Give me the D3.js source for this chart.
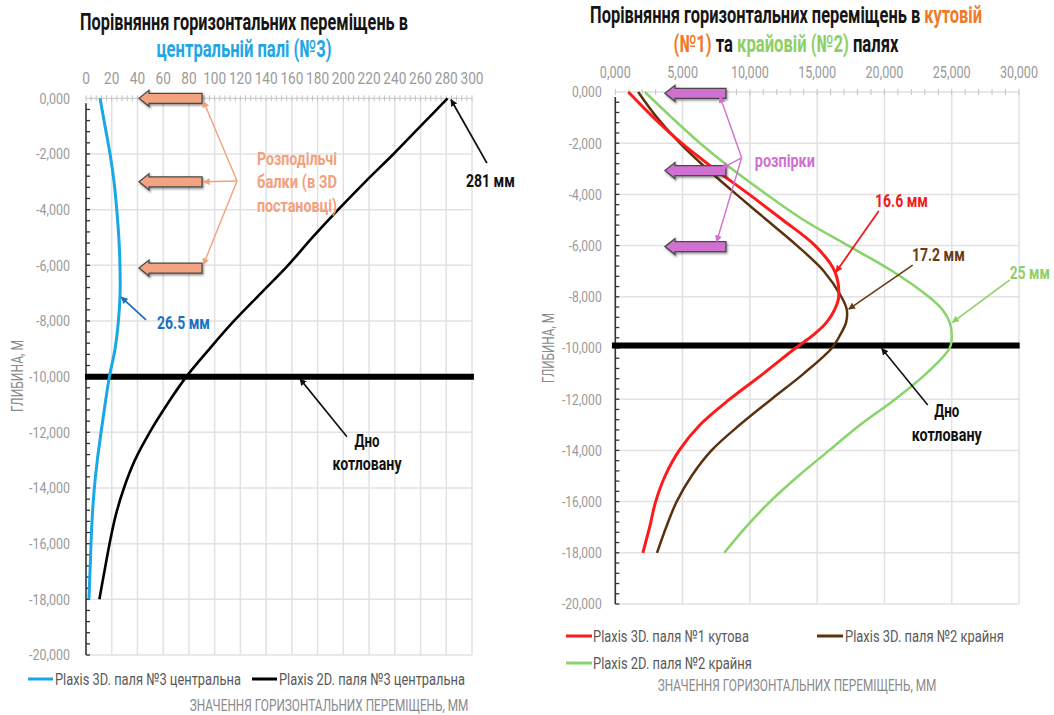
<!DOCTYPE html>
<html><head><meta charset="utf-8">
<script src="https://cdn.jsdelivr.net/npm/d3@7"></script>
<style>
html,body{margin:0;padding:0;background:#fff;}
svg text{font-family:'Liberation Sans Narrow','Roboto','DejaVu Sans',sans-serif;}
</style>
</head><body>
<svg id="c" width="1054" height="715"></svg>
<script>
// ---------- DATA ----------
// Left chart: central pile No3 (depth in m, displacement in mm)
const depthL = [0,-1,-2,-3,-4,-5,-6,-7,-8,-9,-10,-11,-12,-13,-14,-15,-16,-17,-18];
const plaxis3D_pile3 = [10.9,14.8,18.7,21.8,23.9,25.5,26.4,26.5,25.2,22.6,18.2,14.8,11.7,8.8,6.5,4.9,3.9,3.1,2.3];
const plaxis2D_pile3 = [281,260,239,217,196,176,157,136,115,96,78,63,49.5,38,29.5,23,18.3,14.3,10.4];
const xTicksL = [0,20,40,60,80,100,120,140,160,180,200,220,240,260,280,300];
const yTicks = [0,-2,-4,-6,-8,-10,-12,-14,-16,-18,-20];

// Right chart: corner pile No1 and edge pile No2
const depthR = [0,-1,-2,-3,-4,-5,-6,-7,-8,-8.5,-9,-9.5,-10,-11,-12,-13,-14,-15,-16,-17,-18];
const plaxis3D_pile1 = [0.97,2.85,4.93,7.35,9.95,12.45,14.85,16.3,16.6,16.3,15.7,14.7,13.4,11.0,8.5,6.3,4.75,3.7,3.0,2.55,2.05];
const plaxis3D_pile2 = [1.7,3.1,4.8,6.8,9.0,11.25,13.5,15.5,16.8,17.2,17.15,16.7,16.1,14.0,11.6,9.25,7.15,5.67,4.56,3.78,3.1];
const plaxis2D_pile2 = [2.2,4.2,6.3,8.65,11.25,14.0,17.3,20.6,23.3,24.3,24.85,25.0,24.85,23.1,20.8,18.2,15.9,13.6,11.5,9.7,8.1];
const xTicksR = [0,5,10,15,20,25,30];

const excavationBottomL = -10;
const excavationBottomR = -9.9;
const strutDepthsL = [0,-3,-6.1];
const strutDepthsR = [-0.05,-3.07,-6.04];

// ---------- HELPERS ----------
const svg = d3.select('#c');
function fmtY(v){ const a = Math.abs(v); return (v<0?'-':'') + a.toFixed(0) + ',000'; }
function txt(g, x, y, parts, o){
  o = o||{};
  const t = g.append('text').attr('x',0).attr('y',0)
    .attr('text-anchor', o.anchor||'start')
    .attr('dominant-baseline','central')
    .attr('font-size', o.size||14)
    .attr('font-weight', o.weight||'normal');
  if(typeof parts === 'string') parts=[[parts, o.color||'#000']];
  parts.forEach(p=>t.append('tspan').text(p[0]).attr('fill',p[1]));
  let s = 1;
  const len = t.node().getComputedTextLength();
  if(o.w) s = o.w/len; else if(o.k) s = o.k;
  let tr = `translate(${x},${y})`;
  if(o.rot) tr += ` rotate(${o.rot})`;
  tr += ` scale(${s},1)`;
  t.attr('transform', tr);
  return t;
}
function measureK(g, str, size, target, weight){
  const t = g.append('text').attr('font-size',size).attr('font-weight',weight||'normal').text(str);
  const l = t.node().getComputedTextLength(); t.remove(); return target/l;
}
const defs = svg.append('defs');
function marker(id,color){
  defs.append('marker').attr('id',id).attr('viewBox','0 0 10 10').attr('refX',9).attr('refY',5)
    .attr('markerWidth',7).attr('markerHeight',7).attr('orient','auto-start-reverse').attr('markerUnits','userSpaceOnUse')
    .append('path').attr('d','M0,0 L10,5 L0,10 Z').attr('fill',color);
}
marker('mOr','#f3a07c'); marker('mBl','#1b6fc0'); marker('mBk','#111'); marker('mPk','#d070d0');
marker('mRd','#ee1c1c'); marker('mBr','#6a3a12'); marker('mGr','#8ed065');
const filt = defs.append('filter').attr('id','sh').attr('x','-20%').attr('y','-50%').attr('width','140%').attr('height','200%');
filt.append('feDropShadow').attr('dx',1).attr('dy',1.5).attr('stdDeviation',1).attr('flood-color','#000').attr('flood-opacity',0.45);

function blockArrow(g, x1, x2, yc, fill){
  const hl=10, hh=8, sh=5;
  const d = `M${x1},${yc} L${x1+hl},${yc-hh} L${x1+hl},${yc-sh} L${x2},${yc-sh} L${x2},${yc+sh} L${x1+hl},${yc+sh} L${x1+hl},${yc+hh} Z`;
  g.append('path').attr('d',d).attr('fill',fill).attr('stroke','#4a4a4a').attr('stroke-width',1.3).attr('filter','url(#sh)');
}
function pointer(g, a, b, color, mk, w){
  g.append('line').attr('x1',a[0]).attr('y1',a[1]).attr('x2',b[0]).attr('y2',b[1])
    .attr('stroke',color).attr('stroke-width',w||1.6).attr('marker-end',`url(#${mk})`);
}
const TICKC = '#9a9a9a', LBLC = '#5a5a5a', TTLC = '#8a8a8a';

// ---------- LEFT CHART ----------
(function(){
  const g = svg.append('g');
  const x = d3.scaleLinear().domain([0,300]).range([86,472]);
  const y = d3.scaleLinear().domain([0,-20]).range([98.3,655]);
  g.selectAll('.vg').data(xTicksL.slice(1)).join('line')
    .attr('x1',d=>x(d)).attr('x2',d=>x(d)).attr('y1',y(0)).attr('y2',y(-20))
    .attr('stroke','#e2e2e2').attr('stroke-width',1.5);
  g.selectAll('.hg').data(yTicks.slice(1)).join('line')
    .attr('x1',x(0)).attr('x2',x(300)).attr('y1',d=>y(d)).attr('y2',d=>y(d))
    .attr('stroke','#e2e2e2').attr('stroke-width',1.5);
  g.append('line').attr('x1',x(0)).attr('x2',x(300)).attr('y1',y(0)).attr('y2',y(0)).attr('stroke','#cfcfcf').attr('stroke-width',1.2);
  g.selectAll('.tm').data(d3.range(0,301,4)).join('line')
    .attr('x1',d=>x(d)).attr('x2',d=>x(d)).attr('y1',y(0)-3).attr('y2',y(0)+3).attr('stroke','#c4c4c4').attr('stroke-width',1);
  const kx = measureK(g,'300',17,23);
  xTicksL.forEach(v=>txt(g, x(v), 78, String(v), {anchor:'middle', size:17, color:TICKC, k:kx}));
  g.append('line').attr('x1',x(0)).attr('x2',x(0)).attr('y1',y(0)+5).attr('y2',y(-20)).attr('stroke','#333').attr('stroke-width',1.6);
  g.selectAll('.ym').data(d3.range(0,-20.01,-0.4).slice(1)).join('line')
    .attr('x1',x(0)).attr('x2',x(0)+4).attr('y1',d=>y(d)).attr('y2',d=>y(d)).attr('stroke','#333').attr('stroke-width',1.3);
  const ky = measureK(g,'-2,000',14,34);
  yTicks.forEach(v=>txt(g, 70, y(v), fmtY(v), {anchor:'end', size:14, color:TICKC, k:ky}));
  g.append('line').attr('x1',x(-0.8)).attr('x2',x(301.5)).attr('y1',y(excavationBottomL)).attr('y2',y(excavationBottomL))
    .attr('stroke','#000').attr('stroke-width',6);
  const line = d3.line().x(d=>x(d[1])).y(d=>y(d[0])).curve(d3.curveCatmullRom.alpha(0.5));
  g.append('path').attr('d',line(depthL.map((d,i)=>[d,plaxis2D_pile3[i]]))).attr('fill','none').attr('stroke','#000').attr('stroke-width',2.6);
  g.append('path').attr('d',line(depthL.map((d,i)=>[d,plaxis3D_pile3[i]]))).attr('fill','none').attr('stroke','#1aa7e6').attr('stroke-width',3);
  strutDepthsL.forEach(d=>blockArrow(g, x(41.2), x(90.2), y(d), '#f3a37f'));
  const oc = [x(117.4), y(-2.97)];
  [[-0.1],[-3.0],[-5.98]].forEach(p=>pointer(g, oc, [x(91.2), y(p[0])], '#f3a07c', 'mOr', 1.4));
  txt(g, x(132.9), y(-2.15), 'Розподільчі', {size:19, weight:'bold', color:'#f3a07c', w:80});
  txt(g, x(132.9), y(-2.98), 'балки (в 3D', {size:19, weight:'bold', color:'#f3a07c', w:80});
  txt(g, x(132.9), y(-3.83), 'постановці)', {size:19, weight:'bold', color:'#f3a07c', w:80});
  pointer(g, [x(46.6), y(-7.96)], [x(27.4), y(-7.14)], '#1b6fc0', 'mBl', 1.8);
  txt(g, x(55.2), y(-8.06), '26.5 мм', {size:19, weight:'bold', color:'#1b6fc0', w:53});
  pointer(g, [x(311.6), y(-2.33)], [x(283.7), y(-0.05)], '#111', 'mBk', 1.8);
  txt(g, x(295.3), y(-2.93), '281 мм', {size:19, weight:'bold', color:'#111', w:49});
  pointer(g, [x(202.8), y(-12.16)], [x(166.3), y(-10.08)], '#111', 'mBk', 1.6);
  txt(g, x(218.4), y(-12.27), 'Дно', {anchor:'middle', size:19, weight:'bold', color:'#111', w:25});
  txt(g, x(218.4), y(-13.1), 'котловану', {anchor:'middle', size:19, weight:'bold', color:'#111', w:69});
  txt(g, 244, 22, 'Порівняння горизонтальних переміщень в', {anchor:'middle', size:24, weight:'bold', color:'#151515', w:328});
  txt(g, 244, 49, 'центральній палі (№3)', {anchor:'middle', size:24, weight:'bold', color:'#1ea7e4', w:175});
  txt(g, 17, 376, 'ГЛИБИНА, М', {anchor:'middle', size:16, color:TTLC, rot:-90, w:72});
  txt(g, 329, 705, 'ЗНАЧЕННЯ ГОРИЗОНТАЛЬНИХ ПЕРЕМІЩЕНЬ, ММ', {anchor:'middle', size:16, color:TTLC, w:279});
  g.append('line').attr('x1',28).attr('x2',53).attr('y1',679).attr('y2',679).attr('stroke','#1aa7e6').attr('stroke-width',3);
  txt(g, 55, 679, 'Plaxis 3D. паля №3 центральна', {size:17, color:LBLC, w:186});
  g.append('line').attr('x1',252).attr('x2',277).attr('y1',679).attr('y2',679).attr('stroke','#000').attr('stroke-width',3);
  txt(g, 279, 679, 'Plaxis 2D. паля №3 центральна', {size:17, color:LBLC, w:186});
})();

// ---------- RIGHT CHART ----------
(function(){
  const g = svg.append('g');
  const x = d3.scaleLinear().domain([0,30]).range([615.3,1019]);
  const y = d3.scaleLinear().domain([0,-20]).range([92,604]);
  g.selectAll('.vg').data(xTicksR.slice(1)).join('line')
    .attr('x1',d=>x(d)).attr('x2',d=>x(d)).attr('y1',y(0)).attr('y2',y(-20))
    .attr('stroke','#e2e2e2').attr('stroke-width',1.5);
  g.selectAll('.hg').data(yTicks.slice(1)).join('line')
    .attr('x1',x(0)).attr('x2',x(30)).attr('y1',d=>y(d)).attr('y2',d=>y(d))
    .attr('stroke','#e2e2e2').attr('stroke-width',1.5);
  g.append('line').attr('x1',x(0)).attr('x2',x(30)).attr('y1',y(0)).attr('y2',y(0)).attr('stroke','#cfcfcf').attr('stroke-width',1.2);
  g.selectAll('.tm').data(d3.range(0,30.01,1)).join('line')
    .attr('x1',d=>x(d)).attr('x2',d=>x(d)).attr('y1',y(0)-3).attr('y2',y(0)+3).attr('stroke','#c4c4c4').attr('stroke-width',1);
  const kx = measureK(g,'10,000',16,38);
  xTicksR.forEach(v=>txt(g, x(v), 72, v.toFixed(0)+',000', {anchor:'middle', size:16, color:TICKC, k:kx}));
  g.append('line').attr('x1',x(0)).attr('x2',x(0)).attr('y1',y(0)+5).attr('y2',y(-20)).attr('stroke','#333').attr('stroke-width',1.6);
  g.selectAll('.ym').data(d3.range(0,-20.01,-0.4).slice(1)).join('line')
    .attr('x1',x(0)).attr('x2',x(0)+4).attr('y1',d=>y(d)).attr('y2',d=>y(d)).attr('stroke','#333').attr('stroke-width',1.3);
  const ky = measureK(g,'-2,000',15,33);
  yTicks.forEach(v=>txt(g, 601.7, y(v), fmtY(v), {anchor:'end', size:15, color:TICKC, k:ky}));
  g.append('line').attr('x1',x(-0.25)).attr('x2',x(30.05)).attr('y1',y(excavationBottomR)).attr('y2',y(excavationBottomR))
    .attr('stroke','#000').attr('stroke-width',6);
  const line = d3.line().x(d=>x(d[1])).y(d=>y(d[0])).curve(d3.curveCatmullRom.alpha(0.5));
  g.append('path').attr('d',line(depthR.map((d,i)=>[d,plaxis2D_pile2[i]]))).attr('fill','none').attr('stroke','#88d36a').attr('stroke-width',2.5);
  g.append('path').attr('d',line(depthR.map((d,i)=>[d,plaxis3D_pile2[i]]))).attr('fill','none').attr('stroke','#5a3210').attr('stroke-width',2.5);
  g.append('path').attr('d',line(depthR.map((d,i)=>[d,plaxis3D_pile1[i]]))).attr('fill','none').attr('stroke','#ff1a1a').attr('stroke-width',3);
  strutDepthsR.forEach(d=>blockArrow(g, x(3.69), x(8.22), y(d), '#d070d0'));
  const pc = [x(9.39), y(-2.57)];
  pointer(g, pc, [x(7.78), y(-0.18)], '#d070d0', 'mPk', 1.4);
  pointer(g, pc, [x(7.9), y(-2.98)], '#d070d0', 'mPk', 1.4);
  pointer(g, pc, [x(7.53), y(-5.85)], '#d070d0', 'mPk', 1.4);
  txt(g, x(10.37), y(-2.66), 'розпірки', {size:19, weight:'bold', color:'#d070d0', w:60});
  pointer(g, [x(19.58), y(-4.65)], [x(16.4), y(-7.03)], '#ee1c1c', 'mRd', 1.8);
  txt(g, x(19.3), y(-4.22), '16.6 мм', {size:19, weight:'bold', color:'#ee1c1c', w:53});
  pointer(g, [x(22.1), y(-6.76)], [x(17.35), y(-8.48)], '#6a3a12', 'mBr', 1.6);
  txt(g, x(22.04), y(-6.33), '17.2 мм', {size:19, weight:'bold', color:'#6a3a12', w:53});
  pointer(g, [x(29.32), y(-7.34)], [x(25.05), y(-9.0)], '#8ed065', 'mGr', 1.6);
  txt(g, x(29.32), y(-7.02), '25 мм', {size:19, weight:'bold', color:'#8ed065', w:40});
  pointer(g, [x(23.22), y(-12.23)], [x(19.8), y(-10.02)], '#111', 'mBk', 1.6);
  txt(g, x(24.63), y(-12.42), 'Дно', {anchor:'middle', size:19, weight:'bold', color:'#111', w:25});
  txt(g, x(24.63), y(-13.36), 'котловану', {anchor:'middle', size:19, weight:'bold', color:'#111', w:70});
  txt(g, 786, 15, [['Порівняння горизонтальних переміщень в ','#151515'],['кутовій','#f07a2a']], {anchor:'middle', size:24, weight:'bold', w:392});
  txt(g, 786, 44, [['(№1)','#f07a2a'],[' та ','#151515'],['крайовій (№2)','#8ed065'],[' палях','#151515']], {anchor:'middle', size:24, weight:'bold', w:225});
  txt(g, 548, 348, 'ГЛИБИНА, М', {anchor:'middle', size:16, color:TTLC, rot:-90, w:70});
  txt(g, 797, 685, 'ЗНАЧЕННЯ ГОРИЗОНТАЛЬНИХ ПЕРЕМІЩЕНЬ, ММ', {anchor:'middle', size:16, color:TTLC, w:279});
  g.append('line').attr('x1',566).attr('x2',592).attr('y1',636).attr('y2',636).attr('stroke','#ff1a1a').attr('stroke-width',3);
  txt(g, 593, 636, 'Plaxis 3D. паля №1 кутова', {size:17, color:LBLC, w:156});
  g.append('line').attr('x1',817).attr('x2',843).attr('y1',636).attr('y2',636).attr('stroke','#5a3210').attr('stroke-width',3);
  txt(g, 845, 636, 'Plaxis 3D. паля №2 крайня', {size:17, color:LBLC, w:159});
  g.append('line').attr('x1',566).attr('x2',592).attr('y1',663).attr('y2',663).attr('stroke','#88d36a').attr('stroke-width',3);
  txt(g, 593, 663, 'Plaxis 2D. паля №2 крайня', {size:17, color:LBLC, w:159});
})();
</script>
</body></html>
